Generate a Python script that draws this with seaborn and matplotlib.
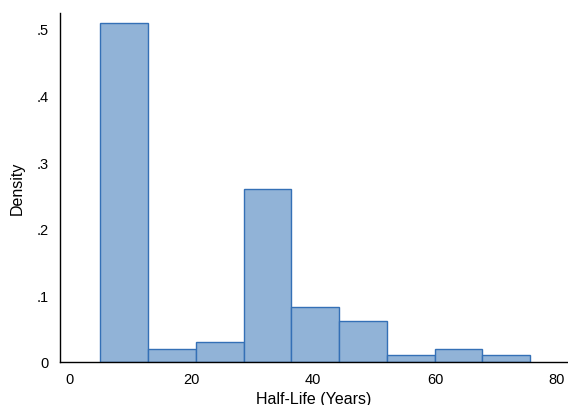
import numpy as np
import pandas as pd
import matplotlib
matplotlib.use("Agg")
import matplotlib.pyplot as plt
import seaborn as sns
from matplotlib.ticker import FixedLocator

# Data
bin_edges = [5.1, 12.93, 20.77, 28.6, 36.43, 44.27, 52.1, 59.93, 67.77, 75.6]
densities = [0.509, 0.0195, 0.030, 0.260, 0.083, 0.062, 0.0105, 0.0195, 0.0105]
x_ticks = [0, 20, 40, 60, 80]
y_ticks = [0, 0.1, 0.2, 0.3, 0.4, 0.5]
y_tick_labels = ["0", ".1", ".2", ".3", ".4", ".5"]

sns.set_theme(style="white")
plt.rcParams['font.family'] = ['Liberation Sans', 'DejaVu Sans']

centers = [(bin_edges[i] + bin_edges[i + 1]) / 2 for i in range(len(densities))]
df = pd.DataFrame({"halflife": centers, "density": densities})

fig = plt.figure(figsize=(5.68, 4.06), dpi=100)
ax = fig.add_axes([60 / 568, 1 - 363 / 406, 1 - 60 / 568, (363 - 14) / 406])

sns.histplot(data=df, x="halflife", weights="density", bins=bin_edges,
             stat="count", ax=ax, color="#91b3d7", alpha=1.0,
             edgecolor="#3470b6", linewidth=1.0)

ax.set_xlim(-1.5, 81.8)
ax.set_ylim(0, 0.524)
ax.xaxis.set_major_locator(FixedLocator(x_ticks))
ax.yaxis.set_major_locator(FixedLocator(y_ticks))
ax.set_yticklabels(y_tick_labels)
ax.tick_params(axis="both", length=0, labelsize=10.5, colors="black", pad=7)
ax.tick_params(axis="y", pad=8)

for s in ["top", "right"]:
    ax.spines[s].set_visible(False)
for s in ["left", "bottom"]:
    ax.spines[s].set_color("black")
    ax.spines[s].set_linewidth(1.0)

ax.set_xlabel("Half-Life (Years)", fontsize=11.5, color="black", labelpad=4)
ax.set_ylabel("Density", fontsize=11.5, color="black", labelpad=9)

fig.savefig("out.png", dpi=100)
